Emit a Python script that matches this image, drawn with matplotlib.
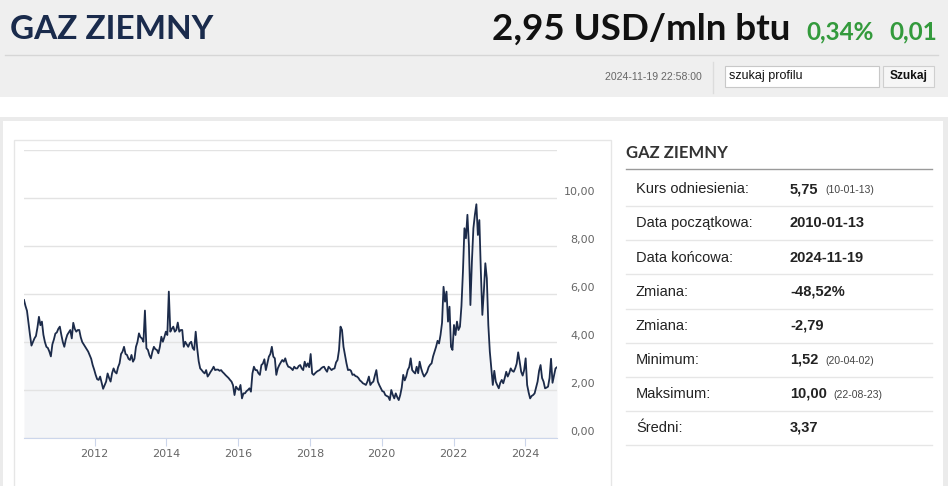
import pandas as pd
import matplotlib.pyplot as plt
from matplotlib.patches import Rectangle
from matplotlib.transforms import blended_transform_factory, ScaledTranslation

W, H = 948, 486

# --- dane: notowania co ~pół miesiąca (2010-01-13 .. 2024-11-19) ---
y2010 = [5.75, 5.50, 5.30, 4.80, 4.30, 3.85, 4.00, 4.15, 4.25, 4.60, 5.05, 4.70,
         4.85, 4.30, 4.00, 3.80, 3.75, 3.60, 3.40, 3.90, 4.10, 4.35, 4.40, 4.55]
y2011 = [4.64, 4.30, 4.00, 3.80, 4.10, 4.30, 4.40, 4.50, 4.15, 4.80, 4.55, 4.43,
         4.50, 4.50, 4.20, 4.00, 3.90, 3.80, 3.70, 3.60, 3.45, 3.30, 3.04, 2.85]
y2012 = [2.63, 2.45, 2.42, 2.56, 2.30, 2.05, 2.20, 2.35, 2.69, 2.50, 2.35, 2.70,
         2.90, 2.75, 2.69, 2.95, 3.11, 3.50, 3.60, 3.80, 3.50, 3.46, 3.30, 3.25]
y2013 = [3.46, 3.18, 3.30, 3.80, 4.00, 4.36, 4.20, 4.15, 4.01, 5.31, 3.74, 3.67,
         3.45, 3.32, 3.60, 3.80, 3.70, 3.67, 3.53, 3.80, 4.22, 4.01, 4.20, 4.43]
y2014 = [4.29, 6.10, 4.43, 4.55, 4.64, 4.43, 4.50, 4.81, 4.43, 4.50, 4.50, 3.80,
         4.01, 3.90, 3.80, 3.95, 4.01, 3.75, 3.67, 4.43, 3.74, 3.20, 2.90, 2.83]
y2015 = [2.75, 2.69, 2.83, 2.56, 2.65, 2.76, 2.85, 2.97, 2.83, 2.85, 2.85, 2.80,
         2.83, 2.75, 2.69, 2.62, 2.56, 2.50, 2.42, 2.35, 2.20, 1.79, 2.14, 2.05]
y2016 = [2.00, 2.21, 1.65, 1.86, 1.86, 1.95, 2.00, 2.07, 1.93, 2.69, 2.97, 2.83,
         2.83, 2.70, 2.63, 3.04, 3.10, 3.28, 2.83, 3.10, 3.39, 3.50, 3.80, 3.39]
y2017 = [3.32, 2.63, 2.90, 3.04, 3.15, 3.25, 3.18, 3.32, 3.10, 2.97, 2.95, 2.90,
         2.83, 2.97, 2.90, 2.90, 3.00, 3.04, 2.90, 2.83, 3.18, 2.97, 3.11, 2.95]
y2018 = [3.50, 2.69, 2.63, 2.70, 2.76, 2.80, 2.83, 2.90, 2.95, 2.97, 2.85, 2.76,
         2.97, 2.90, 2.83, 2.88, 2.90, 3.15, 3.25, 3.67, 4.64, 4.50, 3.80, 3.46]
y2019 = [3.11, 2.83, 2.85, 2.80, 2.63, 2.65, 2.58, 2.56, 2.50, 2.40, 2.35, 2.28,
         2.25, 2.21, 2.35, 2.56, 2.21, 2.30, 2.35, 2.60, 2.83, 2.35, 2.20, 2.07]
y2020 = [1.95, 1.93, 1.79, 1.75, 1.72, 1.58, 2.00, 1.80, 1.65, 1.86, 1.70, 1.58,
         1.79, 2.10, 2.63, 2.40, 2.56, 2.83, 2.95, 3.32, 2.83, 2.75, 2.69, 2.97]
y2021 = [2.70, 3.18, 2.90, 2.70, 2.56, 2.65, 2.75, 2.95, 3.05, 3.11, 3.40, 3.60,
         3.80, 4.05, 3.94, 4.30, 4.80, 6.30, 5.68, 6.10, 4.85, 5.47, 3.80, 3.67]
y2022 = [4.71, 4.29, 4.85, 4.50, 4.64, 5.50, 6.93, 8.74, 8.32, 9.30, 8.04, 5.54,
         7.35, 8.74, 9.30, 9.74, 8.46, 9.08, 6.93, 5.13, 6.10, 7.28, 6.65, 4.71]
y2023 = [3.60, 2.90, 2.21, 2.80, 2.35, 2.20, 2.07, 2.30, 2.42, 2.28, 2.50, 2.76,
         2.56, 2.70, 2.90, 2.80, 2.76, 2.90, 3.10, 3.57, 3.18, 2.76, 2.60, 2.83]
y2024 = [3.32, 2.21, 1.90, 1.65, 1.75, 1.79, 1.86, 2.10, 2.35, 2.80, 3.04, 2.50,
         2.35, 2.07, 2.10, 2.14, 2.50, 3.30, 2.30, 2.60, 2.90, 2.95]

prices = (y2010 + y2011 + y2012 + y2013 + y2014 + y2015 + y2016 + y2017 +
          y2018 + y2019 + y2020 + y2021 + y2022 + y2023 + y2024)
dates = pd.date_range("2010-01-13", "2024-11-19", periods=len(prices))

y_ticks = [0, 2, 4, 6, 8, 10, 12]
x_years = [2012, 2014, 2016, 2018, 2020, 2022, 2024]

# tabela po prawej
stat_labels = ["Kurs odniesienia:", "Data początkowa:", "Data końcowa:", "Zmiana:",
               "Zmiana:", "Minimum:", "Maksimum:", "Średni:"]
stat_values = ["5,75", "2010-01-13", "2024-11-19", "-48,52%", "-2,79", "1,52", "10,00", "3,37"]
stat_dates = ["(10-01-13)", "", "", "", "", "(20-04-02)", "(22-08-23)", ""]

NAVY = "#1c2b4a"
GREEN = "#339a3c"


def fx(x):
    return x / W


def fy(y):
    return 1 - y / H


fig = plt.figure(figsize=(W / 100, H / 100), dpi=100)
fig.patch.set_facecolor("white")


def rect(x0, y0, x1, y1, z=-2, **kw):
    fig.patches.append(Rectangle((fx(x0), fy(y1)), fx(x1) - fx(x0), fy(y0) - fy(y1),
                                 transform=fig.transFigure, zorder=z, **kw))


# tło strony
rect(0, 0, W, 97, facecolor="#efefef", edgecolor="none")
rect(0, 117, W, 121, facecolor="#ebebeb", edgecolor="none")
rect(0, 117, 3, H, facecolor="#ebebeb", edgecolor="none")
rect(943, 117, W, H, facecolor="#ebebeb", edgecolor="none")
fig.add_artist(plt.Line2D([fx(5), fx(938)], [fy(55), fy(55)], color="#d6d6d6", lw=1))
fig.add_artist(plt.Line2D([fx(713), fx(713)], [fy(62), fy(93)], color="#dcdcdc", lw=1))

# nagłówek
fig.text(fx(10), fy(38.5), "GAZ ZIEMNY", fontsize=24, fontweight="bold", family="Lato",
         color="#1a2b4c", va="baseline")
fig.text(fx(790), fy(39.5), "2,95 USD/mln btu", fontsize=26.5, fontweight="bold", family="Lato",
         color="#111111", va="baseline", ha="right")
fig.text(fx(806), fy(39.5), "0,34%", fontsize=17.5, fontweight="bold", family="Lato",
         color=GREEN, va="baseline")
fig.text(fx(937), fy(39.5), "0,01", fontsize=17.5, fontweight="bold", family="Lato",
         color=GREEN, va="baseline", ha="right")
fig.text(fx(702), fy(77), "2024-11-19 22:58:00", fontsize=7.6, color="#666666",
         va="center", ha="right", family="Liberation Sans")
rect(725, 66, 879, 87, z=1, facecolor="white", edgecolor="#c8c8c8", lw=0.8)
fig.text(fx(729), fy(76.5), "szukaj profilu", fontsize=9, color="#111111", va="center",
         family="Liberation Sans")
rect(883, 66, 934, 87, z=1, facecolor="#f6f6f6", edgecolor="#cfcfcf", lw=0.8)
fig.text(fx(908.5), fy(76.5), "Szukaj", fontsize=8.6, fontweight="bold", color="#111111",
         va="center", ha="center", family="Liberation Sans")

# ramka wykresu
rect(14, 140, 611, H + 5, z=-1, facecolor="white", edgecolor="#e6e6e6", lw=1)

ax = fig.add_axes([fx(24), fy(438), fx(557) - fx(24), fy(150) - fy(438)])
ax.set_facecolor("none")
ax.fill_between(dates, prices, 0, color="#f4f5f7", lw=0, zorder=1)
ax.plot(dates, prices, color=NAVY, lw=1.3, zorder=3)
ax.set_ylim(0, 12)
ax.set_xlim(dates[0], dates[-1])
ax.set_yticks(y_ticks)
ax.set_yticklabels([])
ax.tick_params(axis="y", length=0)
ax.grid(axis="y", color="#e3e3e3", lw=1)
ax.set_axisbelow(False)
for s in ["top", "left", "right"]:
    ax.spines[s].set_visible(False)
ax.spines["bottom"].set_color("#ccd6eb")
ax.set_xticks([pd.Timestamp(f"{y}-01-01") for y in x_years])
ax.set_xticklabels([str(y) for y in x_years])
ax.tick_params(axis="x", length=6, color="#ccd6eb", labelcolor="#666666", labelsize=8, pad=2)

trans = blended_transform_factory(ax.transAxes, ax.transData) + \
    ScaledTranslation(38 / 100, 6 / 100, fig.dpi_scale_trans)
for v in y_ticks[:-1]:
    ax.text(1, v, f"{v:.2f}".replace(".", ","), transform=trans, ha="right", va="center",
            fontsize=8, color="#666666")

# panel statystyk
fig.text(fx(626), fy(158.3), "GAZ ZIEMNY", fontsize=12, fontweight="bold", family="Lato",
         color="#333333", va="baseline")
fig.add_artist(plt.Line2D([fx(626), fx(932)], [fy(169.5), fy(169.5)], color="#9a9a9a", lw=1))
for i, (lab, val, dt) in enumerate(zip(stat_labels, stat_values, stat_dates)):
    base = 193.3 + i * 34.1
    fig.text(fx(636), fy(base), lab, fontsize=10.5, color="#222222", va="baseline",
             family="Liberation Sans")
    fig.text(fx(790), fy(base), val, fontsize=10.5, fontweight="bold", color="#222222",
             va="baseline", family="Liberation Sans")
    if dt:
        dx = 35 if len(val) <= 4 else 43
        fig.text(fx(790 + dx), fy(base), dt, fontsize=7.5, color="#444444", va="baseline",
                 family="Liberation Sans")
    sep = 206 + i * 34.2
    fig.add_artist(plt.Line2D([fx(626), fx(932)], [fy(sep), fy(sep)], color="#e6e6e6", lw=1))

fig.savefig("out.png", dpi=100)
